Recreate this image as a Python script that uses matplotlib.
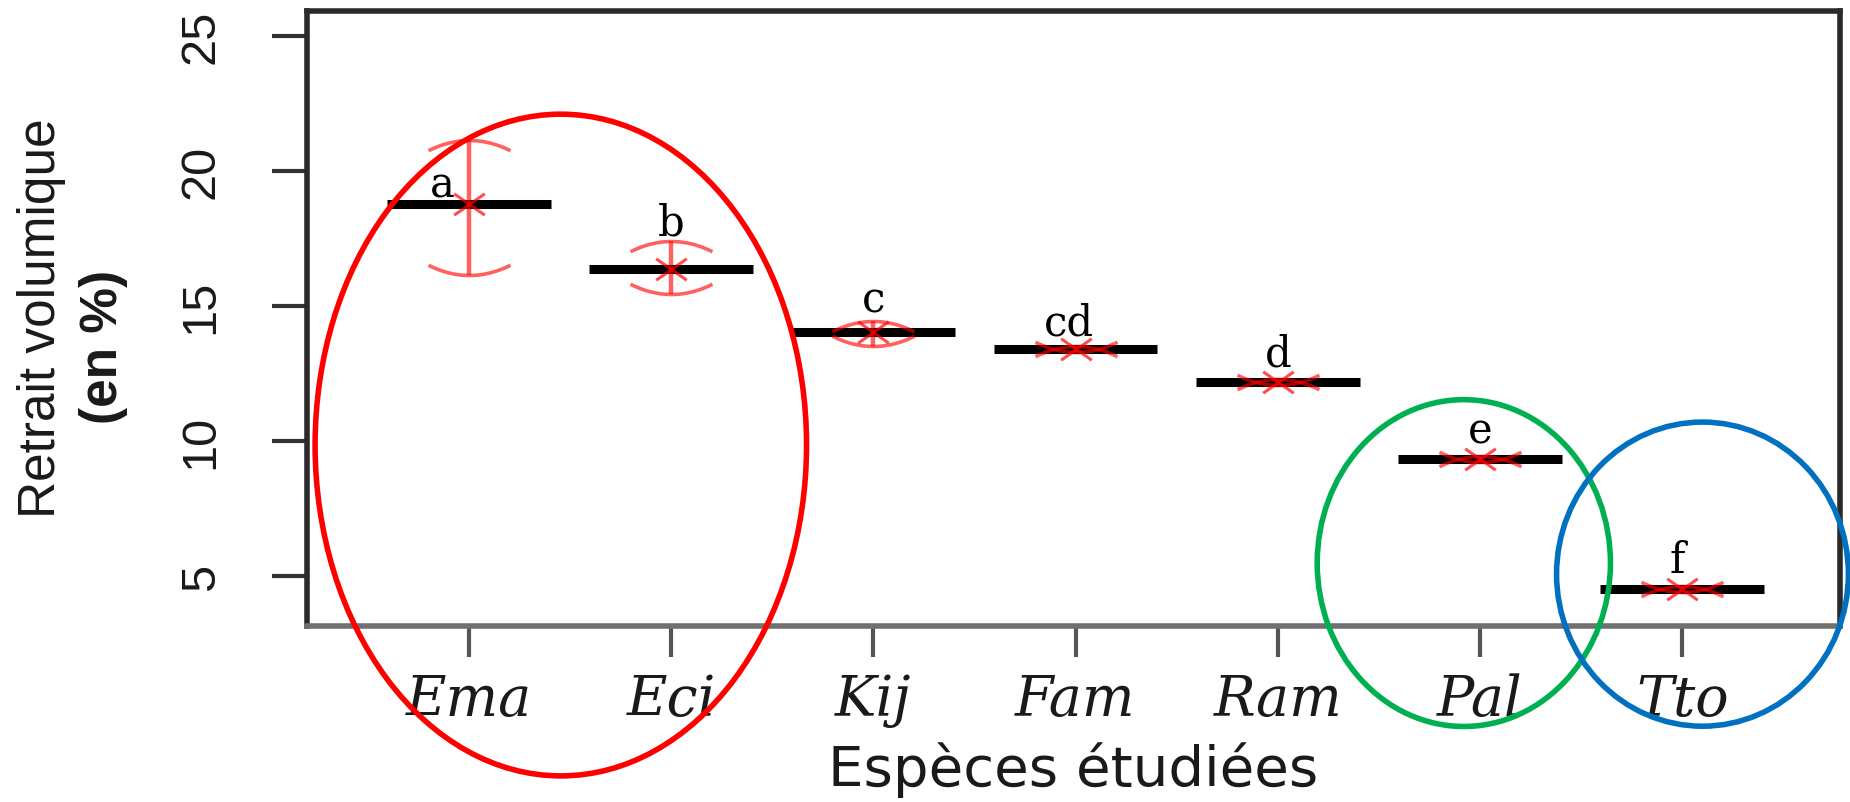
import matplotlib
matplotlib.use('Agg')
import matplotlib.pyplot as plt
from matplotlib import font_manager
from matplotlib.path import Path
from matplotlib.patches import Ellipse
import numpy as np

# ---------------- data ----------------
species = ['Ema', 'Eci', 'Kij', 'Fam', 'Ram', 'Pal', 'Tto']
means = [18.78, 16.37, 14.04, 13.41, 12.19, 9.33, 4.52]
upper = [21.15, 17.42, 14.45, 13.53, 12.31, 9.45, 4.64]
lower = [16.15, 15.45, 13.50, 13.29, 12.07, 9.21, 4.40]
letters = ['a', 'b', 'c', 'cd', 'd', 'e', 'f']
letter_y = [19.07, 17.63, 14.78, 13.96, 12.81, 9.96, 5.15]
yticks = [5, 10, 15, 20, 25]
xlabel = 'Espèces étudiées'
ylabel1 = 'Retrait volumique'
ylabel2 = '(en %)'


def has_font(name):
    try:
        font_manager.findfont(font_manager.FontProperties(family=name),
                              fallback_to_default=False)
        return True
    except Exception:
        return False


if has_font('Liberation Sans Narrow'):
    rot_family = ['Liberation Sans Narrow', 'DejaVu Sans']
    ylab_size, ytick_size, ypad = 45, 41, 36
elif has_font('Liberation Sans'):
    rot_family = ['Liberation Sans', 'DejaVu Sans']
    ylab_size, ytick_size, ypad = 37, 35, 35
else:
    rot_family = ['DejaVu Sans']
    ylab_size, ytick_size, ypad = 31, 30, 35

W, H = 1850, 803
fig = plt.figure(figsize=(W / 100, H / 100), dpi=100)
L, R, T, B = 307, 1840, 12, 627
ax = fig.add_axes([L / W, 1 - B / H, (R - L) / W, (B - T) / H])

x = np.arange(1, len(species) + 1)
means_a = np.array(means)

# mean bars
ax.hlines(means_a, x - 0.405, x + 0.405, colors='black', lw=6.5, zorder=2,
          capstyle='butt')

# error bar shafts
red_alpha = 0.62
ax.vlines(x, lower, upper, colors='red', alpha=red_alpha, lw=3.2, zorder=3)

# curved caps
xs = np.linspace(-1, 1, 25)
top_cap = Path(np.column_stack([xs, -0.25 * xs ** 2]))
bot_cap = Path(np.column_stack([xs, 0.25 * xs ** 2]))
ax.plot(x, upper, ls='none', marker=top_cap, ms=59, mec='red', mfc='none',
        mew=2.6, alpha=red_alpha, zorder=3)
ax.plot(x, lower, ls='none', marker=bot_cap, ms=59, mec='red', mfc='none',
        mew=2.6, alpha=red_alpha, zorder=3)

# x mark at the mean
xmark = Path([(-1, -0.7), (1, 0.7), (-1, 0.7), (1, -0.7)],
             [Path.MOVETO, Path.LINETO, Path.MOVETO, Path.LINETO])
ax.plot(x, means_a, ls='none', marker=xmark, ms=22, mec='red', mfc='none',
        mew=2.2, alpha=0.7, zorder=4)

# group letters
letter_dx = [-0.13, 0, 0, -0.035, 0, 0, -0.025]
for xi, dx, ly, lt in zip(x, letter_dx, letter_y, letters):
    ax.text(xi + dx, ly, lt, ha='center', va='baseline', fontsize=30,
            family='DejaVu Serif', color='black', zorder=5)

ax.set_xlim(0.2, 7.78)
ax.set_ylim(3.15, 25.92)

ax.set_xticks(x)
ax.set_xticklabels(species, fontstyle='italic', family='DejaVu Serif',
                   fontsize=40, color='#1a1a1a')
ax.set_yticks(yticks)
ax.set_yticklabels([str(v) for v in yticks], rotation=90, va='center',
                   family=rot_family, fontsize=ytick_size, color='#1a1a1a')

ax.tick_params(axis='y', length=25, width=3, color='#333333', pad=ypad)
ax.tick_params(axis='x', length=22, width=3, color='#555555', pad=11)

for s in ax.spines.values():
    s.set_linewidth(4)
    s.set_color('#2a2a2a')
ax.spines['bottom'].set_color('#707070')

# highlight ellipses
ell_kw = dict(fill=False, lw=4.0, clip_on=False, zorder=6)
ax.add_patch(Ellipse((1.455, 9.85), 2.43, 24.5, ec='#FF0000', **ell_kw))
ax.add_patch(Ellipse((5.92, 5.48), 1.45, 12.1, ec='#00B050', **ell_kw))
ax.add_patch(Ellipse((7.10, 5.07), 1.443, 11.26, ec='#0070C0', **ell_kw))

# axis titles
fig.text(1073.5 / W, 1 - 786 / H, xlabel, ha='center', va='baseline',
         fontsize=40.5, family='DejaVu Sans', color='#1a1a1a')
fig.text(41.5 / W, 1 - 318 / H, ylabel1, rotation=90, ha='center',
         va='center', fontsize=ylab_size, family=rot_family, color='#1a1a1a')
fig.text(103 / W, 1 - 347 / H, ylabel2, rotation=90, ha='center',
         va='center', fontsize=ylab_size, family=rot_family,
         fontweight='bold', color='#1a1a1a')

fig.savefig('out.png', dpi=100)
